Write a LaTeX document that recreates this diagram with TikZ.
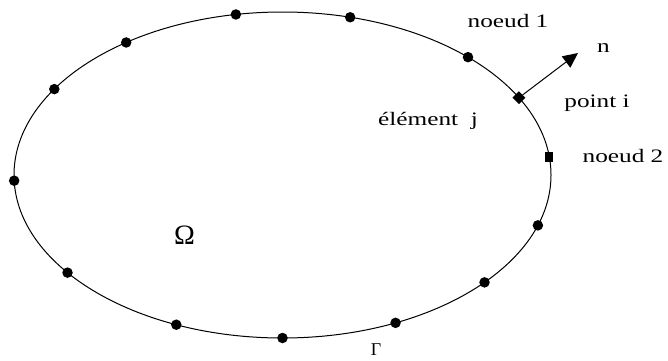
\documentclass[tikz,border=0pt]{standalone}
\usepackage{fontspec}
\setmainfont{Liberation Serif}
\usetikzlibrary{arrows.meta,calc,shapes.geometric}
\newcommand{\wtxt}[1]{\scalebox{1.33}[1]{#1}}
\begin{document}
\begin{tikzpicture}[x=1pt,y=1pt,
  lbl/.style={font=\fontsize{19}{22}\selectfont, inner sep=0pt},
  dotnode/.style={circle, fill=black, inner sep=0pt, minimum size=10.5pt},
  sqnode/.style={rectangle, fill=black, inner sep=0pt, minimum width=8pt, minimum height=10pt},
  inode/.style={diamond, fill=black, inner sep=0pt, minimum size=13pt},
  curve/.style={line width=1pt},
  arr/.style={line width=1pt, -{Triangle[length=15pt,width=14pt]}}]
\useasboundingbox (0,0) rectangle (668,360);
\coordinate (c) at (282.5,185);
\draw[curve] (c) ellipse [x radius=268.5, y radius=163];
\foreach \t [count=\k] in {100,75.4,125.6,148.2,182,216.8,246.7,270,294.9,318.8,342}
  \node[dotnode] (d\k) at ($(c)+(\t:268.5 and 163)$) {};
\node[dotnode] (n1) at ($(c)+(46.3:268.5 and 163)$) {};
\node[sqnode] (n2) at ($(c)+(6.3:268.5 and 163)$) {};
\node[inode] (pi) at ($(c)+(28.3:268.5 and 163)$) {};
\coordinate (tip) at (578,307);
\draw[arr] (pi) -- (tip);
\node[lbl] (t1) at (508,339) {\wtxt{noeud 1}};
\node[lbl] (tn) at (603.5,312) {\wtxt{n}};
\node[lbl] (tp) at (597,257) {\wtxt{point i}};
\node[lbl] (t2) at (623,204) {\wtxt{noeud 2}};
\node[lbl] (tj) at (428,239) {\wtxt{élément\ \ j}};
\node[lbl, font=\fontsize{28}{32}\selectfont] (om) at (184.5,125) {Ω};
\node[lbl, font=\fontsize{18}{20}\selectfont] (ga) at (376,10) {Γ};
\end{tikzpicture}
\end{document}
